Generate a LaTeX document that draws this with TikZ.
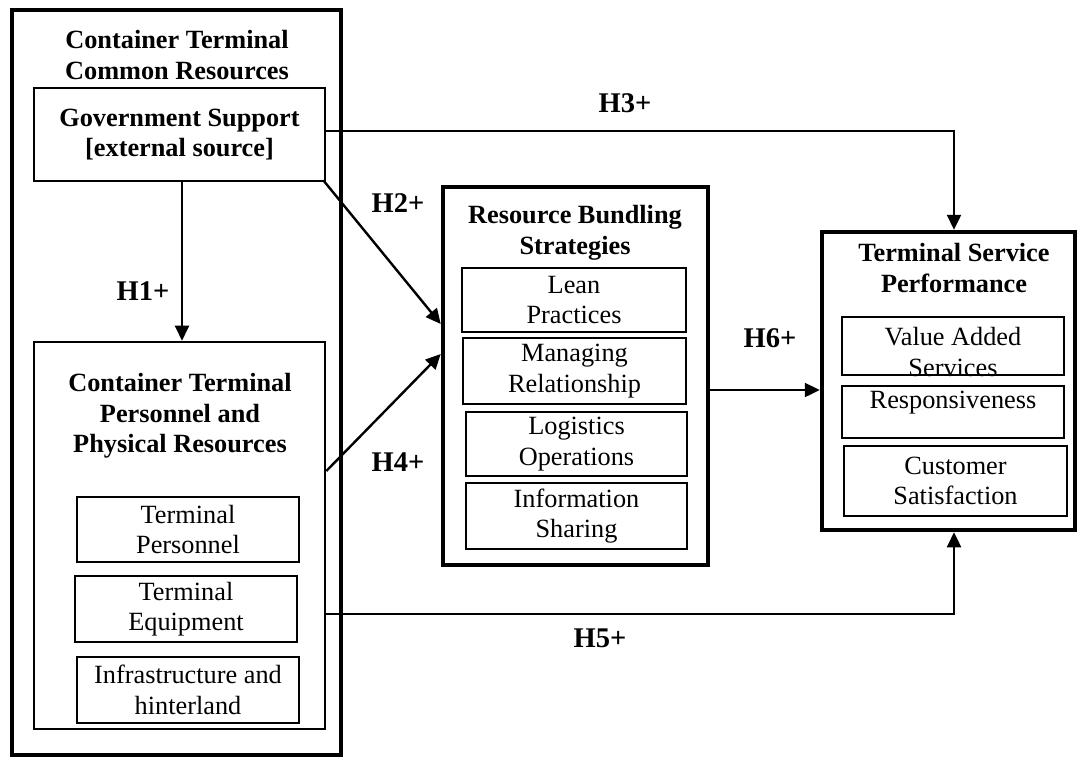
\documentclass[tikz,border=0pt]{standalone}
\usepackage{fontspec}
\setmainfont{Liberation Serif}
\usetikzlibrary{arrows.meta}
\begin{document}
\begin{tikzpicture}[x=1pt,y=-1pt,
  thickbox/.style={draw, line width=4.5pt, inner sep=0pt},
  framebox/.style={draw, line width=2.6pt, inner sep=0pt, align=center, font=\fontsize{26.3}{30.5}\selectfont},
  boldbox/.style={framebox, font=\fontsize{26.3}{30.5}\selectfont\bfseries},
  plaintext/.style={align=center, inner sep=0pt, font=\fontsize{26.3}{30.5}\selectfont},
  titletext/.style={align=center, inner sep=0pt, font=\fontsize{26.3}{30.5}\selectfont\bfseries},
  hyp/.style={inner sep=0pt, font=\fontsize{28.5}{30}\selectfont\bfseries},
  arr/.style={line width=2.4pt, -{Triangle[length=15pt,width=14pt]}}
]
\useasboundingbox (0,0) rectangle (1078,758);

% left outer group
\node[thickbox, minimum width=329pt, minimum height=745pt] (ctcr) at (176.5,382.5) {};
\node[titletext] (ctcrT) at (177,55) {Container Terminal\\Common Resources};
\node[boldbox, minimum width=291pt, minimum height=93pt] (gov) at (179.5,134.5) {Government Support\\{[external source]}};

\node[framebox, minimum width=291pt, minimum height=387pt] (ctp) at (179.5,535.5) {};
\node[titletext] (ctpT) at (180,416) {Container Terminal\\Personnel and\\Physical Resources};
\node[framebox, minimum width=222pt, minimum height=65pt] (tp) at (188,529.5) {Terminal\\Personnel};
\node[framebox, minimum width=222pt, minimum height=66pt] (te) at (186,609) {Terminal\\Equipment};
\node[framebox, minimum width=222pt, minimum height=66pt] (ih) at (188,690) {Infrastructure and\\hinterland};

% middle group
\node[thickbox, minimum width=265pt, minimum height=378pt] (rbs) at (575.5,376) {};
\node[titletext] (rbsT) at (575,233) {Resource Bundling\\Strategies};
\node[framebox, minimum width=224pt, minimum height=64pt] (lp) at (574,300) {Lean\\Practices};
\node[framebox, minimum width=223pt, minimum height=66pt] (mr) at (574.5,371) {Managing\\Relationship};
\node[framebox, minimum width=221pt, minimum height=64pt] (lo) at (576.5,444) {Logistics\\Operations};
\node[framebox, minimum width=221pt, minimum height=66pt] (is) at (576.5,516) {Information\\Sharing};

% right group
\node[thickbox, minimum width=253pt, minimum height=298pt] (tsp) at (948.5,381) {};
\node[titletext] (tspT) at (954,268) {Terminal Service\\Performance};
\node[framebox, minimum width=222pt, minimum height=58pt] (vas) at (953,346) {};
\node[plaintext] (vasT) at (953,352) {Value Added\\Services};
\node[framebox, minimum width=222pt, minimum height=52pt] (resp) at (953,412) {};
\node[plaintext] (respT) at (953,403) {Responsiveness};
\node[framebox, minimum width=223pt, minimum height=70pt] (cs) at (955.5,481) {Customer\\Satisfaction};

% connectors
\draw[arr] ([xshift=2.5pt]gov.south) -- ([xshift=2.5pt]ctp.north);
\draw[arr] ([xshift=-3pt,yshift=2pt]gov.south east) -- ([yshift=52pt]rbs.west);
\draw[arr] ([yshift=3.5pt]gov.east) -| ([xshift=5.5pt]tsp.north);
\draw[arr] ([yshift=64.5pt]ctp.east) -- ([yshift=22pt]rbs.west);
\coordinate (h5s) at ([yshift=-78.5pt]ctp.east);
\draw[arr] (h5s) -| ([xshift=5.5pt]tsp.south);
\coordinate (h6s) at ([yshift=-14pt]rbs.east);
\draw[arr] (h6s) -- (h6s -| tsp.west);

% labels
\node[hyp] (h1) at (143,291) {H1+};
\node[hyp] (h2) at (398,203) {H2+};
\node[hyp] (h3) at (625,103) {H3+};
\node[hyp] (h4) at (398,462) {H4+};
\node[hyp] (h5) at (600,638) {H5+};
\node[hyp] (h6) at (770,338) {H6+};
\end{tikzpicture}
\end{document}
